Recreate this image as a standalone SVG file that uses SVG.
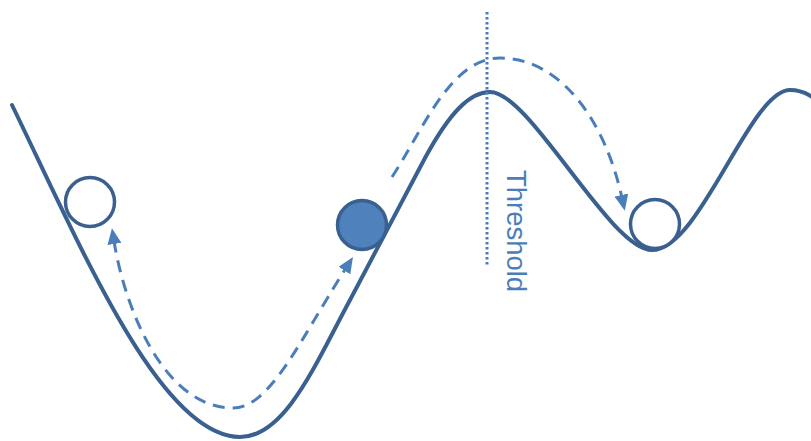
<svg xmlns="http://www.w3.org/2000/svg" width="811" height="441" viewBox="0 0 811 441">
  <style>
    .curve { fill: none; stroke: #3A6090; stroke-width: 4; stroke-linecap: round; }
    .dash { fill: none; stroke: #4A7EBB; stroke-width: 3; stroke-dasharray: 12 8; }
    .dot { fill: none; stroke: #4A7EBB; stroke-width: 3; stroke-dasharray: 2.5 2.5; }
    .ball { fill: #FFFFFF; stroke: #3A6090; stroke-width: 3.5; }
    .ball.filled { fill: #4F81BD; }
    .label { font-family: "Liberation Sans", Arial, sans-serif; font-size: 28px; fill: #4A7EBB; }
  </style>
  <defs>
    <marker id="arrow" viewBox="0 0 16 14" refX="3" refY="7" markerWidth="16" markerHeight="14" markerUnits="userSpaceOnUse" orient="auto-start-reverse">
      <path d="M0,0 L16,7 L0,14 z" fill="#4A7EBB"/>
    </marker>
  </defs>
  <rect width="811" height="441" fill="#FFFFFF"/>
  <g id="landscape">
    <path class="curve" d="M12,105 C80,245 160,437 240,437 C285,437 315,365 350,300 L425,158 C450,112 470,92 490,92 C530,92 610,250 652,250 C700,250 750,90 790,90 C805,90 815,98 825,108"/>
  </g>
  <g id="threshold">
    <line class="dot" x1="487" y1="12" x2="487" y2="266"/>
    <text class="label" transform="translate(507,170) rotate(90)" x="0" y="0" textLength="122" lengthAdjust="spacingAndGlyphs">Threshold</text>
  </g>
  <g id="connectors">
    <path class="dash" d="M114,241 C125,310 165,408 233,408 C270,408 300,340 346,268" marker-start="url(#arrow)" marker-end="url(#arrow)"/>
    <path class="dash" d="M392,177 C422,132 450,58 500,58 C560,58 605,120 622,198" marker-end="url(#arrow)"/>
  </g>
  <g id="ball-left">
    <circle class="ball" cx="90" cy="202" r="24.5"/>
  </g>
  <g id="ball-filled">
    <circle class="ball filled" cx="362" cy="225" r="24.5"/>
  </g>
  <g id="ball-right">
    <circle class="ball" cx="655" cy="224" r="24.5"/>
  </g>
</svg>
